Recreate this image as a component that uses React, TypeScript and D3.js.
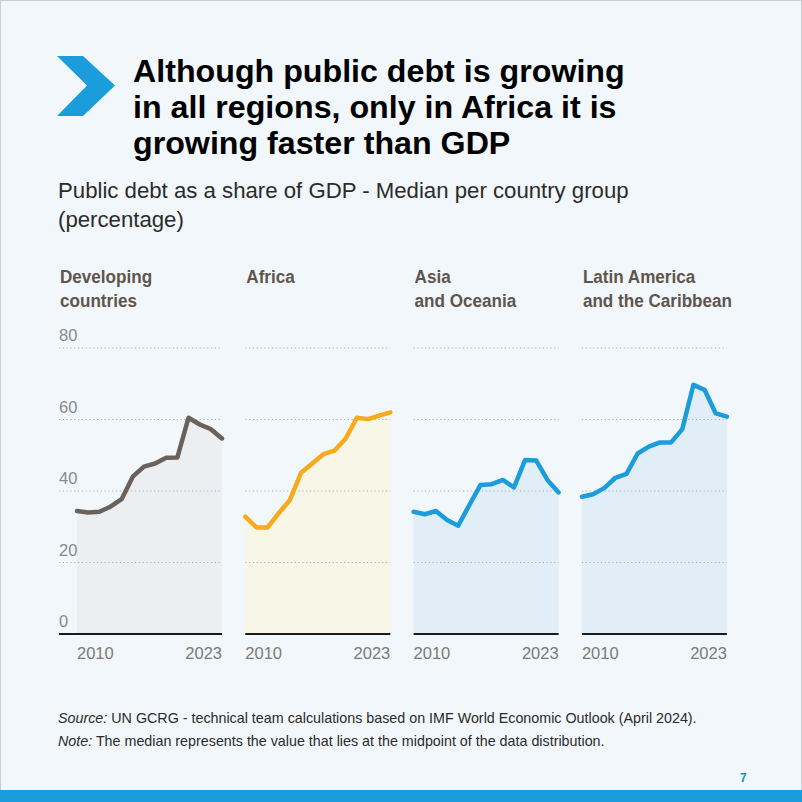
import React from "react";
import * as d3 from "d3";

const years = [2010, 2011, 2012, 2013, 2014, 2015, 2016, 2017, 2018, 2019, 2020, 2021, 2022, 2023];
const developing = [34.4, 34.0, 34.2, 35.6, 37.7, 44.0, 46.8, 47.7, 49.3, 49.4, 60.5, 58.6, 57.3, 54.7];
const africa = [32.8, 29.8, 29.8, 33.8, 37.5, 45.1, 47.7, 50.3, 51.3, 54.7, 60.5, 60.1, 61.1, 62.0];
const asia = [34.2, 33.5, 34.4, 31.9, 30.3, 36.1, 41.7, 41.9, 43.1, 41.0, 48.7, 48.5, 43.1, 39.6];
const latam = [38.4, 39.1, 40.8, 43.7, 44.8, 50.5, 52.4, 53.6, 53.6, 57.3, 69.7, 68.3, 61.7, 60.8];
const yTicks = [0, 20, 40, 60, 80];
const panelTitles = [
  ["Developing", "countries"],
  ["Africa"],
  ["Asia", "and Oceania"],
  ["Latin America", "and the Caribbean"],
];
const series = [developing, africa, asia, latam];
const lineColors = ["#6a615a", "#f6aa1c", "#1b9ddb", "#1b9ddb"];
const fillColors = ["#eceff2", "#f8f6e6", "#e1eef8", "#e1eef8"];

const FONT = "'Liberation Sans', Arial, Helvetica, sans-serif";

export default function App() {
  const W = 802, H = 802;
  const y = d3.scaleLinear().domain([0, 80]).range([634, 348]);
  const panelStart = 77, panelStep = 168.3, panelW = 145;

  return (
    <svg width={W} height={H} style={{ position: "fixed", left: 0, top: 0 }} fontFamily={FONT}>
      <rect x={0} y={0} width={W} height={H} fill="#f2f7fb" />
      <rect x={0.5} y={0.5} width={W - 1} height={H - 1} fill="none" stroke="#c9ced3" />
      {/* chevron */}
      <polygon points="57,56 83,56 115,85.5 83,116 57,116 87,85.5" fill="#1b9ddb" />
      <g fontWeight="bold" fontSize={32.2} fill="#000">
        <text x={133} y={82}>Although public debt is growing</text>
        <text x={133} y={118}>in all regions, only in Africa it is</text>
        <text x={133} y={154}>growing faster than GDP</text>
      </g>
      <g fontSize={22.2} fill="#2b2b2b">
        <text x={58} y={198}>Public debt as a share of GDP - Median per country group</text>
        <text x={58} y={227}>(percentage)</text>
      </g>
      {series.map((vals, i) => {
        const x0 = panelStart + i * panelStep;
        const x = d3.scaleLinear().domain([years[0], years[years.length - 1]]).range([x0, x0 + panelW]);
        const gx0 = i === 0 ? 59 : x0;
        const gx1 = x0 + panelW;
        const pts = years.map((yr, k) => [yr, vals[k]] as [number, number]);
        const line = d3.line<[number, number]>().x(d => x(d[0])).y(d => y(d[1]));
        const area = d3.area<[number, number]>().x(d => x(d[0])).y0(y(0)).y1(d => y(d[1]));
        const hx = i === 0 ? 60 : x0 + 1;
        return (
          <g key={i}>
            <path d={area(pts) || ""} fill={fillColors[i]} />
            {yTicks.filter(t => t > 0).map(t => (
              <line key={t} x1={gx0} x2={gx1} y1={y(t)} y2={y(t)} stroke="#a9aeb3" strokeWidth={1.2} strokeDasharray="1.2,2.6" />
            ))}
            {i === 0 && yTicks.map(t => (
              <text key={t} x={59} y={y(t) - 7} fontSize={16.5} fill="#8a8a8a" fontWeight={300}>{t}</text>
            ))}
            <line x1={gx0} x2={gx1} y1={y(0)} y2={y(0)} stroke="#1a1a1a" strokeWidth={1.8} />
            <path d={line(pts) || ""} fill="none" stroke={lineColors[i]} strokeWidth={4.5} strokeLinejoin="round" strokeLinecap="round" />
            <text x={x0} y={659} fontSize={16.5} fill="#7a7a7a">{years[0]}</text>
            <text x={x0 + panelW} y={659} fontSize={16.5} fill="#7a7a7a" textAnchor="end">{years[years.length - 1]}</text>
            {panelTitles[i].map((t, k) => (
              <text key={k} x={hx} y={283 + k * 24} fontSize={19} fontWeight="bold" fill="#5e554d" transform={`translate(${hx},0) scale(0.9,1) translate(${-hx},0)`}>{t}</text>
            ))}
          </g>
        );
      })}
      <g fontSize={14.3} fill="#2b2b2b">
        <text x={58} y={723}><tspan fontStyle="italic">Source:</tspan> UN GCRG - technical team calculations based on IMF World Economic Outlook (April 2024).</text>
        <text x={58} y={746}><tspan fontStyle="italic">Note:</tspan> The median represents the value that lies at the midpoint of the data distribution.</text>
      </g>
      <text x={740} y={782} fontSize={12} fontWeight="bold" fill="#1b8fc0">7</text>
      <rect x={0} y={790} width={W} height={12} fill="#1b9ddb" />
    </svg>
  );
}
